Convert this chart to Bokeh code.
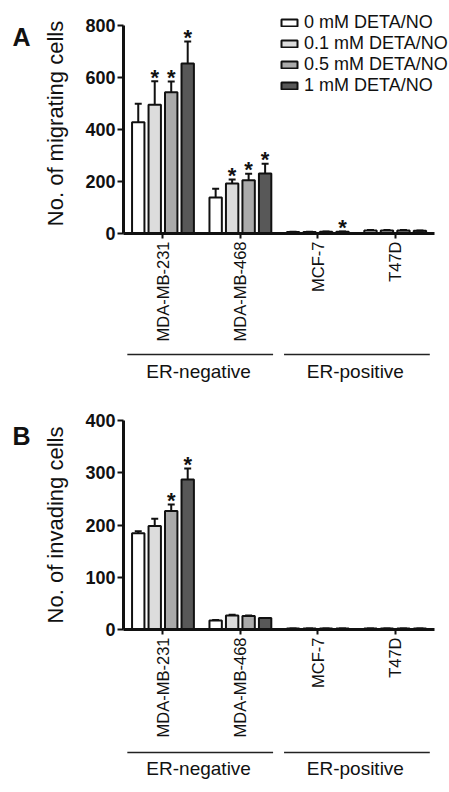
import math
from bokeh.plotting import figure
from bokeh.models import ColumnDataSource, FixedTicker, Legend, LegendItem, Range1d
from bokeh.layouts import column, row
from bokeh.embed import file_html
from bokeh.resources import INLINE
from bokeh.core.properties import value

# ---------------- data ----------------
cell_lines = ["MDA-MB-231", "MDA-MB-468", "MCF-7", "T47D"]
doses = ["0 mM DETA/NO", "0.1 mM DETA/NO", "0.5 mM DETA/NO", "1 mM DETA/NO"]
dose_colors = ["#ffffff", "#dcdcdc", "#aaaaaa", "#585858"]
groups = ["ER-negative", "ER-positive"]
group_members = [[0, 1], [2, 3]]

# Panel A: migrating cells (per dose, values for each cell line)
migr_0 = [428, 138, 6, 12]
migr_01 = [495, 192, 6, 12]
migr_05 = [543, 205, 7, 12]
migr_1 = [654, 231, 7, 11]
migr_err_0 = [71, 34, 1, 1]
migr_err_01 = [91, 16, 1, 1]
migr_err_05 = [42, 25, 1, 1]
migr_err_1 = [84, 37, 1, 1]
migr_sig_0 = [False, False, False, False]
migr_sig_01 = [True, True, False, False]
migr_sig_05 = [True, True, False, False]
migr_sig_1 = [True, True, True, False]
migr_ticks = [0, 200, 400, 600, 800]

# Panel B: invading cells
inv_0 = [184, 17, 2, 2]
inv_01 = [198, 27, 2, 2]
inv_05 = [227, 26, 2, 2]
inv_1 = [287, 22, 2, 2]
inv_err_0 = [4, 1, 0, 0]
inv_err_01 = [14, 1, 0, 0]
inv_err_05 = [12, 1, 0, 0]
inv_err_1 = [21, 0, 0, 0]
inv_sig_0 = [False, False, False, False]
inv_sig_01 = [False, False, False, False]
inv_sig_05 = [True, False, False, False]
inv_sig_1 = [True, False, False, False]
inv_ticks = [0, 100, 200, 300, 400]

FONT = "Liberation Sans"
INK = "#111111"
BAR_STEP = 0.213
BAR_W = 0.16
CAP_W = 0.09
AXIS_START, AXIS_END = -0.51, 3.51      # extent of the drawn x axis
PX_PER_UNIT = 315 / (AXIS_END - AXIS_START)
LEFT = 119
FRAME_W = 449 - LEFT
X_START = AXIS_START
X_END = AXIS_START + FRAME_W / PX_PER_UNIT
LETTER_W = 40
ROW_H = 345


def bare(width, height, x_range, y_range, left=0):
    p = figure(width=width, height=height, output_backend="svg", toolbar_location=None,
               title=None, x_range=x_range, y_range=y_range, x_axis_location=None,
               y_axis_location=None, min_border_left=left, min_border_right=0,
               min_border_top=0, min_border_bottom=0)
    p.outline_line_color = None
    p.grid.visible = False
    return p


def letter_fig(letter, baseline_y):
    p = bare(LETTER_W, ROW_H, Range1d(0, LETTER_W), Range1d(ROW_H, 0))
    p.text(x=[12], y=[baseline_y], text=[letter], text_baseline="alphabetic",
           text_font=value(FONT), text_font_style="bold", text_font_size="25px",
           text_color=INK)
    return p


def group_fig(height, line_y, text_y):
    p = bare(449, height, Range1d(X_START, X_END), Range1d(height, 0), left=LEFT)
    x0 = [m[0] - 0.41 for m in group_members]
    x1 = [m[-1] + 0.45 for m in group_members]
    mids = [(m[0] + m[-1]) / 2 for m in group_members]
    p.segment(x0=x0, y0=[line_y] * len(x0), x1=x1, y1=[line_y] * len(x1),
              line_color="#222222", line_width=1.3)
    p.text(x=mids, y=[text_y] * len(mids), text=groups, text_align="center",
           text_baseline="middle", text_font=value(FONT), text_font_size="19px",
           text_color=INK)
    return p


def chart(means, errs, sigs, ticks, ylabel, top_b, frame_h, axis_top_gap, show_legend):
    bottom_b = ROW_H - top_b - frame_h
    y_end = ticks[-1] + axis_top_gap * (ticks[-1] - ticks[0]) / (frame_h - axis_top_gap)
    p = figure(width=449 - LETTER_W, height=ROW_H, output_backend="svg",
               toolbar_location=None, title=None,
               x_range=Range1d(X_START, X_END), y_range=Range1d(ticks[0], y_end),
               min_border_left=LEFT - LETTER_W, min_border_right=0,
               min_border_top=top_b, min_border_bottom=bottom_b)
    p.outline_line_color = None
    p.grid.visible = False

    renderers = []
    for d, (m, e, s) in enumerate(zip(means, errs, sigs)):
        off = (d - 1.5) * BAR_STEP
        xs = [i + off for i in range(len(cell_lines))]
        tops = [mv + ev for mv, ev in zip(m, e)]
        src = ColumnDataSource(dict(x=xs, top=m, etop=tops,
                                    cl=[x - CAP_W / 2 for x in xs],
                                    cr=[x + CAP_W / 2 for x in xs]))
        r = p.vbar(x="x", top="top", bottom=0, width=BAR_W, source=src,
                   fill_color=dose_colors[d], line_color=INK, line_width=2)
        renderers.append(r)
        p.segment(x0="x", y0="top", x1="x", y1="etop", source=src,
                  line_color=INK, line_width=2)
        p.segment(x0="cl", y0="etop", x1="cr", y1="etop", source=src,
                  line_color=INK, line_width=2)
        sx = [x for x, f in zip(xs, s) if f]
        sy = [t for t, f in zip(tops, s) if f]
        if sx:
            p.text(x=sx, y=sy, text=["*"] * len(sx), text_align="center",
                   text_baseline="alphabetic", y_offset=-4,
                   text_font=value(FONT), text_font_style="bold",
                   text_font_size="22px", text_color=INK)

    xa = p.xaxis[0]
    xa.bounds = (AXIS_START - 6 / PX_PER_UNIT, AXIS_END)
    xa.ticker = FixedTicker(ticks=list(range(len(cell_lines))))
    xa.major_label_overrides = {i: n for i, n in enumerate(cell_lines)}
    xa.major_label_orientation = math.pi / 2
    xa.major_label_text_font = FONT
    xa.major_label_text_font_size = "16.5px"
    xa.major_label_text_color = INK
    xa.major_label_standoff = 3
    xa.major_tick_out = 5
    xa.major_tick_in = 0
    xa.major_tick_line_width = 2
    xa.major_tick_line_color = INK
    xa.minor_tick_line_color = None
    xa.axis_line_width = 3
    xa.axis_line_color = INK

    ya = p.yaxis[0]
    ya.ticker = FixedTicker(ticks=ticks)
    ya.bounds = (ticks[0], ticks[-1])
    ya.major_label_text_font = FONT
    ya.major_label_text_font_style = "bold"
    ya.major_label_text_font_size = "18px"
    ya.major_label_text_color = INK
    ya.major_label_standoff = 2
    ya.major_tick_out = 6
    ya.major_tick_in = 0
    ya.major_tick_line_width = 2
    ya.major_tick_line_color = INK
    ya.minor_tick_line_color = None
    ya.axis_line_width = 3
    ya.axis_line_color = INK
    ya.axis_label = ylabel
    ya.axis_label_text_font = FONT
    ya.axis_label_text_font_style = "normal"
    ya.axis_label_text_font_size = "22px"
    ya.axis_label_text_color = INK
    ya.axis_label_standoff = 14

    if show_legend:
        legend = Legend(items=[LegendItem(label=doses[d], renderers=[renderers[d]])
                               for d in range(len(doses))],
                        location=(156, 137), orientation="vertical",
                        glyph_width=20, glyph_height=9, label_height=16, spacing=0,
                        label_standoff=5, padding=0, margin=0,
                        border_line_color=None, background_fill_alpha=0,
                        label_text_font=FONT, label_text_font_size="18px",
                        label_text_color=INK)
        p.add_layout(legend)
    return p


pA = chart([migr_0, migr_01, migr_05, migr_1],
           [migr_err_0, migr_err_01, migr_err_05, migr_err_1],
           [migr_sig_0, migr_sig_01, migr_sig_05, migr_sig_1],
           migr_ticks, "No. of migrating cells",
           top_b=13, frame_h=220, axis_top_gap=12, show_legend=True)

pB = chart([inv_0, inv_01, inv_05, inv_1],
           [inv_err_0, inv_err_01, inv_err_05, inv_err_1],
           [inv_sig_0, inv_sig_01, inv_sig_05, inv_sig_1],
           inv_ticks, "No. of invading cells",
           top_b=20, frame_h=209, axis_top_gap=0, show_legend=False)

layout = column(
    row(letter_fig("A", 37), pA, spacing=0),
    group_fig(55, 9, 26),
    row(letter_fig("B", 25), pB, spacing=0),
    group_fig(47, 7, 23),
    spacing=0,
)
open("out.html", "w").write(file_html(layout, INLINE))
